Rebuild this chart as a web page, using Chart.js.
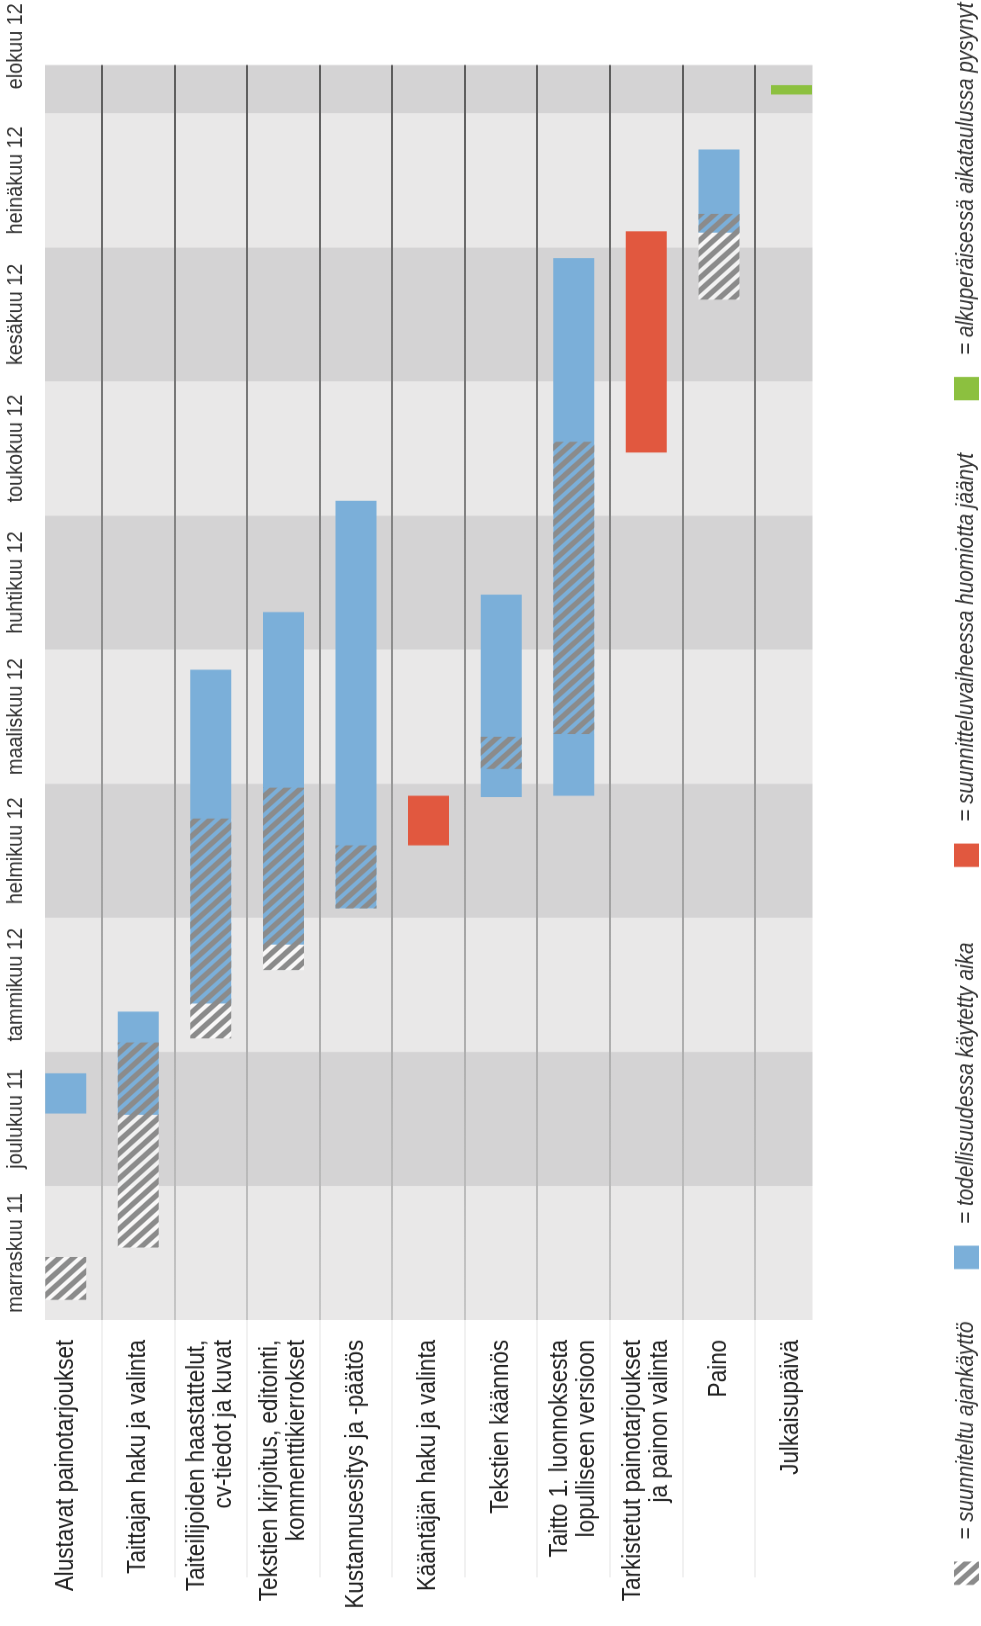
<!DOCTYPE html>
<html>
<head>
<meta charset="utf-8">
<title>Aikataulu</title>
<script src="https://cdn.jsdelivr.net/npm/chart.js@4.4.1/dist/chart.umd.min.js"></script>
<style>
html, body { margin: 0; padding: 0; background: #fff; overflow: hidden; }
body { width: 981px; height: 1626px; position: relative; }
/* the chart is drawn lying down and turned to portrait, a little condensed */
#wrap {
	position: absolute; left: 0; top: 0; width: 1900px; height: 989px;
	transform-origin: 0 0;
	transform: translateY(1626px) rotate(-90deg) scaleX(0.9);
}
</style>
</head>
<body>
<div id="wrap"><canvas id="gantt" width="1900" height="989"></canvas></div>
<script>
console.log('load gantt');

var tasks = [
	'Alustavat painotarjoukset',
	'Taittajan haku ja valinta',
	['Taiteilijoiden haastattelut,', 'cv-tiedot ja kuvat'],
	['Tekstien kirjoitus, editointi,', 'kommenttikierrokset'],
	'Kustannusesitys ja -päätös',
	'Kääntäjän haku ja valinta',
	'Tekstien käännös',
	['Taitto 1. luonnoksesta', 'lopulliseen versioon'],
	['Tarkistetut painotarjoukset', 'ja painon valinta'],
	'Paino',
	'Julkaisupäivä'
];

var months = ['marraskuu 11', 'joulukuu 11', 'tammikuu 12', 'helmikuu 12', 'maaliskuu 12',
	'huhtikuu 12', 'toukokuu 12', 'kesäkuu 12', 'heinäkuu 12', 'elokuu 12'];

// time in months counted from the start of marraskuu 2011
var timeEnd = 9.36;

var planned = [[0.15, 0.47], [0.54, 2.07], [2.10, 3.74], [2.61, 3.97], [3.07, 3.54], null,
	[4.11, 4.35], [4.37, 6.55], null, [7.61, 8.25], null];
var actual = [[1.54, 1.84], [1.53, 2.30], [2.36, 4.85], [2.80, 5.28], [3.07, 6.11], null,
	[3.90, 5.41], [3.91, 7.92], null, [8.11, 8.73], null];
var unplanned = [null, null, null, null, null, [3.54, 3.91], null, null, [6.47, 8.12], null, null];
var onTime = [null, null, null, null, null, null, null, null, null, null, [9.14, 9.21]];

var legendTexts = [
	'= suunniteltu ajankäyttö',
	'= todellisuudessa käytetty aika',
	'= suunnitteluvaiheessa huomiotta jäänyt',
	'= alkuperäisessä aikataulussa pysynyt'
];
// extra room after each legend text, in spaces
var legendTrail = [2, 6, 2, 0];

function toBars(list){
	var out = [];
	for(var i = 0; i < list.length; i++){
		if(list[i])
			out.push({x: list[i], y: i});
	}
	return out;
}

function legendLabel(i){
	var sp = '\u00a0';
	return sp + sp + legendTexts[i] + sp.repeat(legendTrail[i]);
}

var canvas = document.getElementById('gantt');
var ctx = canvas.getContext('2d');

function makeHatch(){
	var tile = document.createElement('canvas');
	tile.width = 14;
	tile.height = 14;
	var g = tile.getContext('2d');
	g.strokeStyle = '#8b8b8b';
	g.lineWidth = 5.6;
	[-14, 0, 14].forEach(function(k){
		g.beginPath();
		g.moveTo(-3, k - 3);
		g.lineTo(17, k + 17);
		g.stroke();
	});
	return ctx.createPattern(tile, 'repeat');
}
var hatch = makeHatch();

function lineGradient(c){
	var a = c.chart.chartArea;
	if(!a)
		return '#999';
	var g = c.chart.ctx.createLinearGradient(a.left, 0, a.right, 0);
	g.addColorStop(0, '#c6c6c6');
	g.addColorStop(1, '#5c5c5c');
	return g;
}

// alternating month bands behind everything
var monthBands = {
	id: 'monthBands',
	beforeDraw: function(chart){
		var x = chart.scales.x;
		var a = chart.chartArea;
		var c = chart.ctx;
		c.save();
		for(var i = 0; i < months.length; i++){
			var x0 = x.getPixelForValue(i);
			var x1 = x.getPixelForValue(Math.min(i + 1, x.max));
			c.fillStyle = i % 2 ? '#d4d3d4' : '#e9e8e8';
			c.fillRect(x0, a.top, x1 - x0, a.bottom - a.top);
		}
		c.restore();
	}
};

Chart.defaults.font.family = "'Liberation Sans', Arial, Helvetica, sans-serif";

var barStyle = {grouped: false, borderWidth: 0, borderSkipped: false, maxBarThickness: 41};

window.gantt = new Chart(ctx, {
	type: 'bar',
	data: {
		datasets: [
			Object.assign({label: legendLabel(0), data: toBars(planned), backgroundColor: hatch, order: 0}, barStyle),
			Object.assign({label: legendLabel(1), data: toBars(actual), backgroundColor: '#7bafd9', order: 1}, barStyle),
			Object.assign({label: legendLabel(2), data: toBars(unplanned), backgroundColor: '#e1583f', order: 2}, barStyle),
			Object.assign({label: legendLabel(3), data: toBars(onTime), backgroundColor: '#8cc03f', order: 3}, barStyle),
			// light underlay so the hatch gaps read white outside the blue bars
			Object.assign({label: '', data: toBars(planned), backgroundColor: 'rgba(255,255,255,0.7)', order: 4}, barStyle)
		]
	},
	options: {
		indexAxis: 'y',
		responsive: false,
		animation: false,
		devicePixelRatio: 1,
		layout: {padding: 0},
		scales: {
			x: {
				type: 'linear',
				position: 'top',
				min: 0,
				max: timeEnd,
				grid: {display: false},
				border: {display: false},
				afterBuildTicks: function(s){
					s.ticks = months.map(function(m, i){ return {value: i + 0.5}; });
				},
				afterFit: function(s){ s.height = 45; },
				ticks: {
					autoSkip: false,
					maxRotation: 0,
					padding: 8,
					color: '#333',
					font: {size: 22},
					callback: function(v, i){ return months[i]; }
				}
			},
			y: {
				type: 'linear',
				position: 'left',
				reverse: true,
				offset: false,
				min: -0.285,
				max: 10.29,
				border: {display: false},
				afterBuildTicks: function(s){
					s.ticks = tasks.map(function(t, i){ return {value: i}; });
				},
				afterFit: function(s){ s.width = 340; },
				grid: {
					offset: true,
					color: lineGradient,
					lineWidth: 2,
					drawTicks: true,
					tickLength: 286,
					tickColor: '#ececec',
					tickWidth: 1.5
				},
				ticks: {
					autoSkip: false,
					padding: 22 - 286,
					color: '#222',
					font: {size: 25, lineHeight: 1.08},
					callback: function(v, i){ return tasks[i]; }
				}
			},
			pad: {
				type: 'linear',
				position: 'right',
				grid: {display: false},
				border: {display: false},
				ticks: {display: false},
				afterFit: function(s){ s.width = 1900 - 1734.4; }
			}
		},
		plugins: {
			tooltip: {enabled: false},
			legend: {
				position: 'bottom',
				align: 'start',
				title: {display: true, text: '', padding: {top: 85.9, bottom: 0}, font: {size: 10, lineHeight: 1}},
				labels: {
					boxWidth: 26,
					boxHeight: 25,
					padding: 45.6,
					color: '#333',
					font: {size: 23, style: 'italic'},
					filter: function(item){ return item.text !== ''; }
				}
			}
		}
	},
	plugins: [monthBands]
});
console.log('gantt was built');
</script>
</body>
</html>
